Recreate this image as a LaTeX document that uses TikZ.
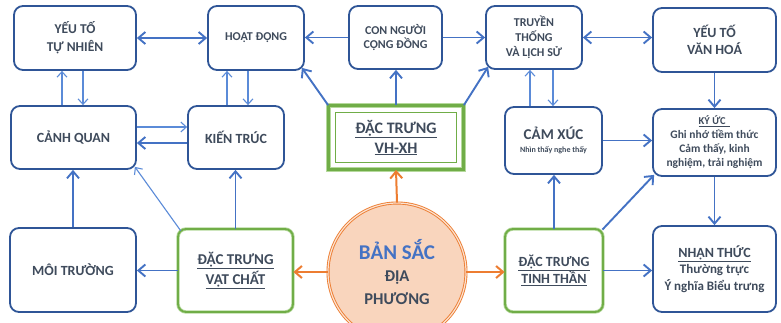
\documentclass[tikz,border=0pt]{standalone}
\usepackage{fontspec}
\setmainfont{Carlito}
\usetikzlibrary{arrows.meta,calc}

\definecolor{boxblue}{HTML}{2F5597}
\definecolor{arrblue}{HTML}{4472C4}
\definecolor{thinblue}{HTML}{5B8BD8}
\definecolor{txt}{HTML}{3F4B5C}
\definecolor{grn}{HTML}{70AD47}
\definecolor{lgrn}{HTML}{B5D99C}
\definecolor{org}{HTML}{ED7D31}
\definecolor{peach}{HTML}{F9D5BD}

\tikzset{
  box/.style={draw=boxblue, line width=1.8pt, rounded corners=9pt, fill=white,
    align=center, text=txt, inner sep=1pt},
  sz/.style 2 args={minimum width=#1pt, minimum height=#2pt},
  greenbox/.style={draw=lgrn, line width=0.8pt, double=grn, double distance=1.8pt,
    rounded corners=8pt, fill=white, align=center, text=txt, inner sep=1pt},
  framebox/.style={draw=lgrn, line width=0.8pt, double=grn, double distance=3.8pt,
    fill=white, align=center, text=txt, inner sep=1pt},
  hub/.style={circle, draw=org, line width=0.9pt, double=peach!70!white,
    double distance=1.2pt, fill=peach, align=center, text=txt, inner sep=0pt},
  arr/.style={draw=arrblue, line width=1.9pt,
    -{Straight Barb[length=7pt,width=12pt]}},
  biarr/.style={draw=arrblue, line width=1.9pt,
    {Straight Barb[length=7pt,width=12pt]}-{Straight Barb[length=7pt,width=12pt]}},
  thinarr/.style={draw=thinblue, line width=1.1pt,
    -{Straight Barb[length=5.5pt,width=10pt]}},
  orarr/.style={draw=org, line width=2pt,
    -{Straight Barb[length=7pt,width=12pt]}},
}

\begin{document}
\begin{tikzpicture}[x=1pt,y=-1pt]
\fill[white] (0,0) rectangle (781,322);
\useasboundingbox (0,0) rectangle (781,322);
\clip (0,0) rectangle (781,322);

% top row
\node[box,sz={122}{64},font=\bfseries\fontsize{13.5}{18}\selectfont] (ytn) at (75,38) {YẾU TỐ\\TỰ NHIÊN};
\node[box,sz={96}{64},font=\bfseries\fontsize{12}{14}\selectfont] (hd) at (256,38) {HOẠT ĐỘNG};
\node[box,sz={93}{63},font=\bfseries\fontsize{12}{13.5}\selectfont] (cn) at (395.5,37.5) {CON NGƯỜI\\CỘNG ĐỒNG};
\node[box,sz={96}{63},font=\bfseries\fontsize{12}{15}\selectfont] (tt) at (534,37.5) {TRUYỀN\\THỐNG\\VÀ LỊCH SỬ};
\node[box,sz={123}{64},font=\bfseries\fontsize{14}{17}\selectfont] (yvh) at (714.5,40) {YẾU TỐ\\VĂN HOÁ};

% middle row
\node[box,sz={125}{63},font=\bfseries\fontsize{14}{16}\selectfont] (cq) at (73.5,137.5) {CẢNH QUAN};
\node[box,sz={96}{63},font=\bfseries\fontsize{14}{16}\selectfont] (kt) at (236,137.5) {KIẾN TRÚC};
\node[framebox,minimum width=135pt,minimum height=64pt,font=\bfseries\fontsize{16}{20}\selectfont] (vhxh) at (396,137.5) {\underline{ĐẶC TRƯNG}\\\underline{VH-XH}};
\draw[grn, line width=1pt] ($(vhxh.north west)+(7,7)$) rectangle ($(vhxh.south east)+(-7,-7)$);
\node[box,sz={97}{67},font=\bfseries\fontsize{15}{13}\selectfont] (cx) at (553.5,140.5) {CẢM XÚC\\{\fontsize{8}{9}\selectfont Nhìn thấy nghe thấy}};
\node[box,sz={123}{67},font=\bfseries\fontsize{11.5}{14}\selectfont] (ky) at (714.5,142.5) {{\fontsize{10.5}{12}\selectfont\underline{KÝ ỨC\ \ }}\\Ghi nhớ tiềm thức\\Cảm thấy, kinh\\nghiệm, trải nghiệm};

% bottom row
\node[box,sz={126}{84},font=\bfseries\fontsize{14}{16}\selectfont] (mt) at (73,270) {MÔI TRƯỜNG};
\node[greenbox,minimum width=115pt,minimum height=83pt,font=\bfseries\fontsize{15}{20}\selectfont] (vc) at (235.5,270.5) {\underline{ĐẶC TRƯNG}\\\underline{VẬT CHẤT}};
\node[hub,minimum size=138pt,font=\bfseries\fontsize{16.5}{22.5}\selectfont] (bs) at (397,272) {{\fontsize{21}{22.5}\selectfont\color{arrblue}BẢN SẮC}\\ĐỊA\\PHƯƠNG};
\node[greenbox,minimum width=98pt,minimum height=83pt,font=\bfseries\fontsize{14}{17}\selectfont] (tinh) at (554,270.5) {\underline{ĐẶC TRƯNG}\\\underline{TINH THẦN}};
\node[box,sz={123}{86},font=\bfseries\fontsize{13}{16.5}\selectfont] (nt) at (714.5,269) {{\fontsize{14}{16.5}\selectfont\underline{NHẬN THỨC}}\\Thường trực\\Ý nghĩa Biểu trưng};

% connectors along the top row
\draw[biarr] (ytn.east) -- (hd.west);
\draw[arr] (cn.west) -- (cn.west -| hd.east);
\draw[arr] (cn.east) -- (cn.east -| tt.west);
\draw[biarr] (tt.east) -- (tt.east -| yvh.west);

% from the social-cultural block
\draw[arr] (vhxh.north west) -- ($(hd.south east)+(-3,-3)$);
\draw[arr] (vhxh.north) -- (vhxh.north |- cn.south);
\draw[arr] (vhxh.north east) -- ($(tt.south west)+(3,-3)$);

% paired links between the upper rows
\draw[thinarr] ($(cq.north)+(-11.5,0)$) coordinate (c1) -- (c1 |- ytn.south);
\draw[thinarr] ($(ytn.south)+(8,0)$) coordinate (c2) -- (c2 |- cq.north);
\draw[thinarr] ($(kt.north)+(-9,0)$) coordinate (c3) -- (c3 |- hd.south);
\draw[thinarr] ($(hd.south)+(-8,0)$) coordinate (c4) -- (c4 |- kt.north);
\draw[thinarr] ($(cx.north)+(-23.5,0)$) coordinate (c5) -- (c5 |- tt.south);
\draw[thinarr] ($(tt.south)+(19,0)$) coordinate (c6) -- (c6 |- cx.north);
\draw[thinarr] ($(cq.east)+(0,-10.5)$) coordinate (c7) -- (c7 -| kt.west);
\draw[arr] ($(kt.west)+(0,5.5)$) coordinate (c8) -- (c8 -| cq.east);

% material block
\draw[arr] (mt.north) -- (mt.north |- cq.south);
\draw[thinarr] ($(vc.north west)+(3,2)$) -- ($(cq.south east)+(-2,-3)$);
\draw[arr] (vc.north) -- (vc.north |- kt.south);
\draw[arr] (vc.west) -- (vc.west -| mt.east);

% from the hub
\draw[orarr] (bs.west) -- (bs.west -| vc.east);
\draw[orarr] (bs.north) -- (vhxh.south);
\draw[orarr] (bs.east) -- (bs.east -| tinh.west);

% spiritual block
\draw[arr] (cx.east) -- (cx.east -| ky.west);
\draw[arr] (tinh.north) -- (tinh.north |- cx.south);
\draw[arr] ($(tinh.north east)+(-1,1)$) -- ($(ky.south west)+(2,-2)$);
\draw[arr] (tinh.east) -- (tinh.east -| nt.west);
\draw[arr] (yvh.south) -- (ky.north);
\draw[arr] (ky.south) -- (nt.north);
\end{tikzpicture}
\end{document}
